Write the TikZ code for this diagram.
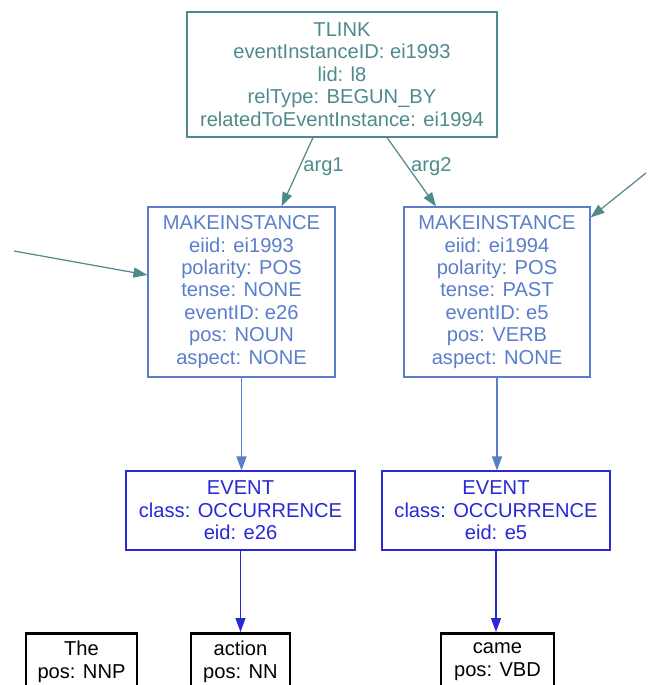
\documentclass[tikz,border=0pt]{standalone}
\usepackage{fontspec}
\setmainfont{Liberation Sans}
\usetikzlibrary{arrows.meta}
\definecolor{tlinkc}{HTML}{4E8A8C}
\definecolor{mic}{HTML}{5A7ECB}
\definecolor{evc}{HTML}{2828D8}
\tikzset{
  base/.style={draw, rectangle, inner sep=0pt, align=center, line width=1.1bp,
    font=\fontsize{20.2}{22.5}\selectfont},
  tlinkbox/.style={base, draw=tlinkc, text=tlinkc},
  mibox/.style={base, draw=mic, text=mic},
  evbox/.style={base, draw=evc, text=evc},
  wordbox/.style={base, draw=black, text=black, line width=2.5bp},
  edge/.style={line width=1.2bp, -{Triangle[length=14bp,width=10bp]}},
  elabel/.style={font=\fontsize{20.2}{22.5}\selectfont, text=tlinkc, inner sep=0pt}
}
\begin{document}
\begin{tikzpicture}[x=1bp,y=-1bp]
\useasboundingbox (0,0) rectangle (649,685);
\clip (0,0) rectangle (649,685);
\node[tlinkbox, minimum width=310bp, minimum height=125bp] (tlink) at (342,74.5)
  {TLINK\\eventInstanceID: ei1993\\lid: l8\\relType: BEGUN\_BY\\relatedToEventInstance: ei1994};
\node[mibox, minimum width=187bp, minimum height=170bp] (mi1) at (241.5,292)
  {MAKEINSTANCE\\eiid: ei1993\\polarity: POS\\tense: NONE\\eventID: e26\\pos: NOUN\\aspect: NONE};
\node[mibox, minimum width=186bp, minimum height=170bp] (mi2) at (497,292)
  {MAKEINSTANCE\\eiid: ei1994\\polarity: POS\\tense: PAST\\eventID: e5\\pos: VERB\\aspect: NONE};
\node[evbox, minimum width=229bp, minimum height=79bp] (ev1) at (240.5,510.5)
  {EVENT\\class: OCCURRENCE\\eid: e26};
\node[evbox, minimum width=228bp, minimum height=79bp] (ev2) at (496,510.5)
  {EVENT\\class: OCCURRENCE\\eid: e5};
\node[wordbox, minimum width=111bp, minimum height=57bp, anchor=north] (the) at (81.5,632)
  {The\\pos: NNP};
\node[wordbox, minimum width=99bp, minimum height=57bp, anchor=north] (action) at (240.5,632)
  {action\\pos: NN};
\node[wordbox, minimum width=113bp, minimum height=57bp, anchor=north] (came) at (497.5,632)
  {came\\pos: VBD};
\coordinate (inL) at (14,251);
\coordinate (inR) at (646,173);
\draw[edge, draw=tlinkc, fill=tlinkc] ([xshift=-29bp]tlink.south) -- ([xshift=40bp]mi1.north)
  node[elabel, pos=0.42, right=3bp] {arg1};
\draw[edge, draw=tlinkc, fill=tlinkc] ([xshift=45bp]tlink.south) -- ([xshift=-61bp]mi2.north)
  node[elabel, pos=0.42, right=3bp] {arg2};
\draw[edge, draw=tlinkc, fill=tlinkc] (inL) -- ([yshift=17bp]mi1.west);
\draw[edge, draw=tlinkc, fill=tlinkc] (inR) -- ([yshift=-11bp]mi2.north east);
\draw[edge, draw=mic, fill=mic] (mi1.south) -- (mi1.south |- ev1.north);
\draw[edge, draw=mic, fill=mic] (mi2.south) -- (mi2.south |- ev2.north);
\draw[edge, draw=evc, fill=evc] (ev1.south) -- (ev1.south |- action.north);
\draw[edge, draw=evc, fill=evc] (ev2.south) -- (ev2.south |- came.north);
\end{tikzpicture}
\end{document}
